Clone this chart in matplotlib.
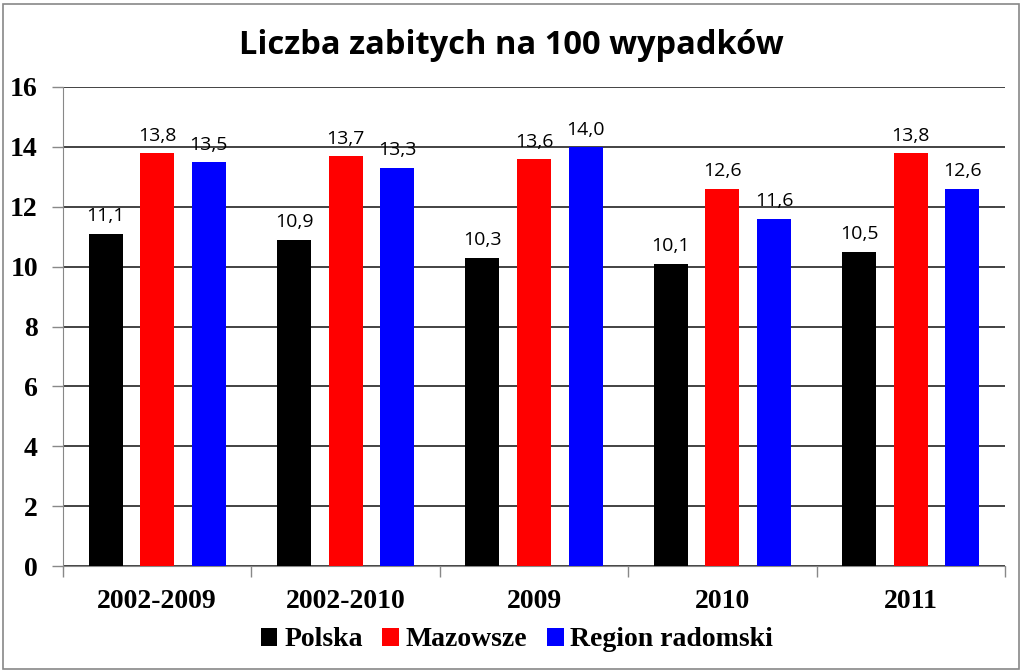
import numpy as np
import matplotlib.pyplot as plt
from matplotlib.patches import Rectangle

categories = ['2002-2009', '2002-2010', '2009', '2010', '2011']
series_names = ['Polska', 'Mazowsze', 'Region radomski']
polska = [11.1, 10.9, 10.3, 10.1, 10.5]
mazowsze = [13.8, 13.7, 13.6, 12.6, 13.8]
radomski = [13.5, 13.3, 14.0, 11.6, 12.6]
colors = ['#000000', '#ff0000', '#0000ff']

fig = plt.figure(figsize=(10.23, 6.72), dpi=100)
ax = fig.add_axes([63 / 1023, 1 - 566 / 672, 942 / 1023, 479 / 672])

x = np.arange(len(categories))
step = 0.274
width = 0.18
for i, (vals, name) in enumerate(zip([polska, mazowsze, radomski], series_names)):
    pos = x + (i - 1) * step
    ax.bar(pos, vals, width, color=colors[i], label=name, zorder=3)
    for px, v in zip(pos, vals):
        ax.annotate(f'{v:.1f}'.replace('.', ','), (px, v), xytext=(0, 6),
                    textcoords='offset points', ha='center', va='bottom',
                    fontsize=14, family='Open Sans', zorder=4)

ax.set_xlim(-0.5, len(categories) - 0.5)
ax.set_ylim(0, 16)
ax.set_yticks(range(0, 17, 2))
ax.yaxis.grid(True, color='#222222', linewidth=1.2, zorder=0)
ax.set_axisbelow(True)
for s in ['top', 'right']:
    ax.spines[s].set_visible(False)
ax.spines['left'].set_color('#888888')
ax.spines['bottom'].set_color('#888888')
ax.set_xticks(np.arange(-0.5, len(categories)), minor=False)
ax.set_xticklabels([])
ax.tick_params(axis='x', length=8, color='#888888', width=1)
ax.tick_params(axis='y', length=8, color='#888888', width=1, pad=10)
for lbl in ax.get_yticklabels():
    lbl.set_fontfamily('Liberation Serif')
    lbl.set_fontweight('bold')
    lbl.set_fontsize(20)
for xi, c in zip(x, categories):
    ax.text(xi, -1.2, c, ha='center', va='center', fontsize=20,
            family='Liberation Serif', fontweight='bold')

fig.text(0.5, 1 - 45 / 672, 'Liczba zabitych na 100 wypadków', ha='center', va='center',
         fontsize=23.5, fontweight='bold', family='Open Sans')

fig.legend(loc='center', bbox_to_anchor=(517 / 1023, 1 - 640 / 672), ncol=3, frameon=False,
           prop={'family': 'Liberation Serif', 'weight': 'bold', 'size': 20},
           handlelength=0.6, handleheight=0.6, handletextpad=0.25, columnspacing=0.7)

fig.patches.append(Rectangle((3 / 1023, 3 / 672), 1016 / 1023, 665 / 672,
                             transform=fig.transFigure, fill=False,
                             edgecolor='#888888', linewidth=1.2))

fig.savefig('out.png', dpi=100)
